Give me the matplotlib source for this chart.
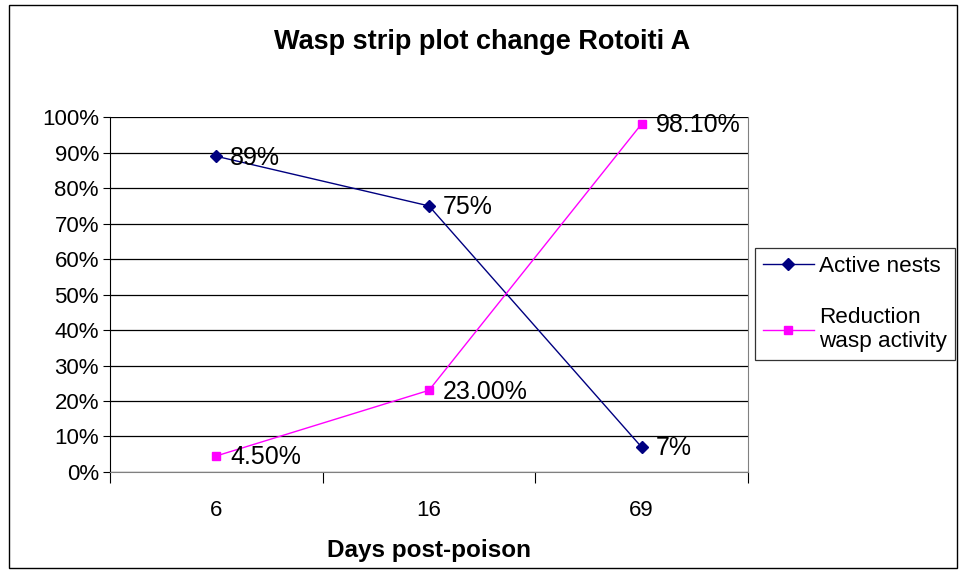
import matplotlib.pyplot as plt
from matplotlib.patches import Rectangle

plt.rcParams['font.family'] = ['Liberation Sans', 'DejaVu Sans']

# data
days = ['6', '16', '69']
active_nests = [89, 75, 7]
reduction = [4.5, 23.0, 98.1]
active_labels = ['89%', '75%', '7%']
reduction_labels = ['4.50%', '23.00%', '98.10%']

fig = plt.figure(figsize=(9.65, 5.72), dpi=100)
ax = fig.add_axes([0.114, 0.175, 0.661, 0.62])

x = list(range(len(days)))
ax.plot(x, active_nests, color='#000080', lw=1, marker='D', ms=6.5,
        label='Active nests', zorder=3)
ax.plot(x, reduction, color='#FF00FF', lw=1, marker='s', ms=6,
        label='Reduction\nwasp activity', zorder=3)

for xi, v, t in zip(x, active_nests, active_labels):
    ax.annotate(t, (xi, v), xytext=(10, -1), textcoords='offset points',
                va='center', ha='left', fontsize=18)
for xi, v, t in zip(x, reduction, reduction_labels):
    ax.annotate(t, (xi, v), xytext=(10, -1), textcoords='offset points',
                va='center', ha='left', fontsize=18)

ax.set_xlim(-0.5, 2.5)
ax.set_ylim(0, 100)
ax.set_yticks(range(0, 101, 10))
ax.set_yticklabels([f'{v}%' for v in range(0, 101, 10)], fontsize=16)
ax.yaxis.grid(True, color='black', lw=0.9)
ax.set_axisbelow(True)

# category labels centred, tick marks between categories
ax.set_xticks([-0.5, 0.5, 1.5, 2.5])
ax.set_xticklabels([])
ax.set_xticks(x, minor=True)
ax.set_xticklabels(days, minor=True, fontsize=16)
ax.tick_params(axis='x', which='major', direction='out', length=8, color='black')
ax.tick_params(axis='x', which='minor', length=0, pad=20)
ax.tick_params(axis='y', direction='out', length=5, pad=3)

ax.spines['right'].set_color('#808080')
ax.spines['bottom'].set_color('#808080')
ax.spines['left'].set_color('black')
ax.spines['top'].set_visible(False)

ax.set_xlabel('Days post-poison', fontsize=17.5, fontweight='bold', labelpad=13)
fig.text(0.5, 0.927, 'Wasp strip plot change Rotoiti A', ha='center', va='center',
         fontsize=19.5, fontweight='bold')

leg = fig.legend(loc='upper left', bbox_to_anchor=(0.782, 0.567), fontsize=16.2,
                 frameon=True, fancybox=False, edgecolor='black',
                 handlelength=2.3, labelspacing=1.35, borderpad=0.35,
                 handletextpad=0.2, borderaxespad=0)
leg.get_frame().set_linewidth(0.9)

fig.patches.append(Rectangle((0.009, 0.007), 0.983, 0.985, transform=fig.transFigure,
                             fill=False, edgecolor='black', lw=1))

fig.savefig('out.png', dpi=100)
